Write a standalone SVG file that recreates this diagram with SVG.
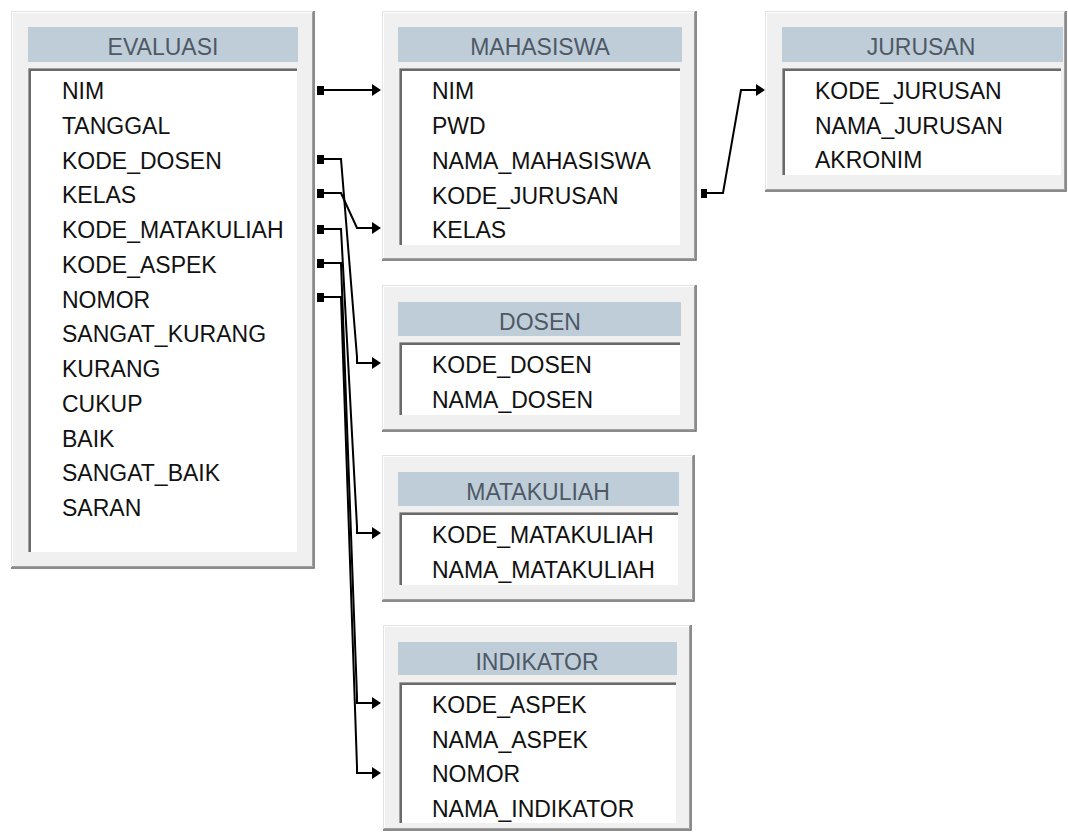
<svg xmlns="http://www.w3.org/2000/svg" width="1068" height="834" viewBox="0 0 1068 834">
<defs>
<style>
.panel{fill:#f0f0f0}
.hi1{fill:none;stroke:#e3e3e3;stroke-width:1}
.hi2{fill:none;stroke:#ffffff;stroke-width:1}
.sh1{fill:none;stroke:#a0a0a0;stroke-width:1}
.sh2{fill:none;stroke:#6a6a6a;stroke-width:1.5}
.hdr{fill:#bfcdd9}
.inner{fill:#ffffff}
.in1{fill:none;stroke:#a0a0a0;stroke-width:1}
.in2{fill:none;stroke:#6a6a6a;stroke-width:2}
.title{font-family:"Liberation Sans",Arial,sans-serif;font-size:23px;fill:#4e5965;text-anchor:middle}
.fld{font-family:"Liberation Sans",Arial,sans-serif;font-size:23px;fill:#111111}
.ln{fill:none;stroke:#000;stroke-width:2}
.sq{fill:#000}
.ah{fill:#000}
</style>
</defs>
<rect width="1068" height="834" fill="#ffffff"/>

<g id="EVALUASI">
<rect class="panel" x="11" y="11" width="304" height="558"/>
<path class="hi1" d="M11.5,568 V11.5 H314"/>
<path class="hi2" d="M12.5,567 V12.5 H313"/>
<path class="sh1" d="M312.5,12 V566.5 H12"/>
<path class="sh2" d="M314,11 V568 H11"/>
<rect class="hdr" x="28" y="27" width="270" height="35"/>
<text class="title" x="163" y="55">EVALUASI</text>
<rect class="inner" x="28" y="68" width="269" height="484"/>
<path class="in1" d="M28.5,552 V68.5 H297"/>
<path class="in2" d="M30,552 V70 H297"/>
<text class="fld" x="62" y="99">NIM</text>
<text class="fld" x="62" y="133.8">TANGGAL</text>
<text class="fld" x="62" y="168.5">KODE_DOSEN</text>
<text class="fld" x="62" y="203.3">KELAS</text>
<text class="fld" x="62" y="238">KODE_MATAKULIAH</text>
<text class="fld" x="62" y="272.8">KODE_ASPEK</text>
<text class="fld" x="62" y="307.5">NOMOR</text>
<text class="fld" x="62" y="342.3">SANGAT_KURANG</text>
<text class="fld" x="62" y="377">KURANG</text>
<text class="fld" x="62" y="411.8">CUKUP</text>
<text class="fld" x="62" y="446.5">BAIK</text>
<text class="fld" x="62" y="481.3">SANGAT_BAIK</text>
<text class="fld" x="62" y="516">SARAN</text>
</g>

<g id="MAHASISWA">
<rect class="panel" x="382" y="11" width="315" height="250"/>
<path class="hi1" d="M382.5,260 V11.5 H696"/>
<path class="hi2" d="M383.5,259 V12.5 H695"/>
<path class="sh1" d="M694.5,12 V258.5 H383"/>
<path class="sh2" d="M696,11 V260 H382"/>
<rect class="hdr" x="398" y="27" width="284" height="35"/>
<text class="title" x="540" y="55">MAHASISWA</text>
<rect class="inner" x="399" y="68" width="281" height="177"/>
<path class="in1" d="M399.5,245 V68.5 H680"/>
<path class="in2" d="M401,245 V70 H680"/>
<text class="fld" x="432" y="99">NIM</text>
<text class="fld" x="432" y="134">PWD</text>
<text class="fld" x="432" y="168.5">NAMA_MAHASISWA</text>
<text class="fld" x="432" y="203.5">KODE_JURUSAN</text>
<text class="fld" x="432" y="238">KELAS</text>
</g>

<g id="JURUSAN">
<rect class="panel" x="765" y="11" width="302" height="181"/>
<path class="hi1" d="M765.5,191 V11.5 H1066"/>
<path class="hi2" d="M766.5,190 V12.5 H1065"/>
<path class="sh1" d="M1064.5,12 V189.5 H766"/>
<path class="sh2" d="M1066,11 V191 H765"/>
<rect class="hdr" x="782" y="27" width="281" height="35"/>
<text class="title" x="921" y="55">JURUSAN</text>
<rect class="inner" x="782" y="68" width="279" height="107"/>
<path class="in1" d="M782.5,175 V68.5 H1061"/>
<path class="in2" d="M784,175 V70 H1061"/>
<text class="fld" x="815" y="99">KODE_JURUSAN</text>
<text class="fld" x="815" y="133.5">NAMA_JURUSAN</text>
<text class="fld" x="815" y="168">AKRONIM</text>
</g>

<g id="DOSEN">
<rect class="panel" x="382" y="285" width="315" height="147"/>
<path class="hi1" d="M382.5,431 V285.5 H696"/>
<path class="hi2" d="M383.5,430 V286.5 H695"/>
<path class="sh1" d="M694.5,286 V429.5 H383"/>
<path class="sh2" d="M696,285 V431 H382"/>
<rect class="hdr" x="398" y="302" width="283" height="34"/>
<text class="title" x="540" y="330">DOSEN</text>
<rect class="inner" x="399" y="342" width="281" height="73"/>
<path class="in1" d="M399.5,415 V342.5 H680"/>
<path class="in2" d="M401,415 V344 H680"/>
<text class="fld" x="432" y="373">KODE_DOSEN</text>
<text class="fld" x="432" y="408">NAMA_DOSEN</text>
</g>

<g id="MATAKULIAH">
<rect class="panel" x="382" y="455" width="313" height="147"/>
<path class="hi1" d="M382.5,601 V455.5 H694"/>
<path class="hi2" d="M383.5,600 V456.5 H693"/>
<path class="sh1" d="M692.5,456 V599.5 H383"/>
<path class="sh2" d="M694,455 V601 H382"/>
<rect class="hdr" x="398" y="472" width="281" height="34"/>
<text class="title" x="538" y="500">MATAKULIAH</text>
<rect class="inner" x="399" y="512" width="279" height="73"/>
<path class="in1" d="M399.5,585 V512.5 H678"/>
<path class="in2" d="M401,585 V514 H678"/>
<text class="fld" x="432" y="543">KODE_MATAKULIAH</text>
<text class="fld" x="432" y="578">NAMA_MATAKULIAH</text>
</g>

<g id="INDIKATOR">
<rect class="panel" x="383" y="625" width="309" height="206"/>
<path class="hi1" d="M383.5,830 V625.5 H691"/>
<path class="hi2" d="M384.5,829 V626.5 H690"/>
<path class="sh1" d="M689.5,626 V828.5 H384"/>
<path class="sh2" d="M691,625 V830 H383"/>
<rect class="hdr" x="398" y="642" width="279" height="33"/>
<text class="title" x="537" y="670">INDIKATOR</text>
<rect class="inner" x="399" y="682" width="277" height="141"/>
<path class="in1" d="M399.5,823 V682.5 H676"/>
<path class="in2" d="M401,823 V684 H676"/>
<text class="fld" x="432" y="713">KODE_ASPEK</text>
<text class="fld" x="432" y="748">NAMA_ASPEK</text>
<text class="fld" x="432" y="782">NOMOR</text>
<text class="fld" x="432" y="817">NAMA_INDIKATOR</text>
</g>

<g id="connectors">
<!-- EVALUASI.NIM -> MAHASISWA.NIM -->
<rect class="sq" x="317" y="86" width="7" height="9"/>
<path class="ln" d="M324,90 H373"/>
<polygon class="ah" points="372,84 381,90 372,96"/>
<!-- MAHASISWA.KODE_JURUSAN -> JURUSAN.KODE_JURUSAN -->
<rect class="sq" x="701" y="189" width="6" height="9"/>
<path class="ln" d="M707,193 H723 L741,90 H757"/>
<polygon class="ah" points="756,84 765,90 756,96"/>
<!-- EVALUASI.KODE_DOSEN -> DOSEN.KODE_DOSEN -->
<rect class="sq" x="317" y="155" width="7" height="9"/>
<path class="ln" d="M324,159 H341 L357,357 V363 H373"/>
<polygon class="ah" points="372,357 381,363 372,369"/>
<!-- EVALUASI.KELAS -> MAHASISWA.KELAS -->
<rect class="sq" x="317" y="189" width="7" height="9"/>
<path class="ln" d="M324,193 H341 L357,228 H373"/>
<polygon class="ah" points="372,222 381,228 372,234"/>
<!-- EVALUASI.KODE_MATAKULIAH -> MATAKULIAH.KODE_MATAKULIAH -->
<rect class="sq" x="317" y="225" width="7" height="9"/>
<path class="ln" d="M324,229 H341 L357,527 V533 H373"/>
<polygon class="ah" points="372,527 381,533 372,539"/>
<!-- EVALUASI.KODE_ASPEK -> INDIKATOR.KODE_ASPEK -->
<rect class="sq" x="317" y="259" width="7" height="9"/>
<path class="ln" d="M324,263 H341 L357,697 V703 H373"/>
<polygon class="ah" points="372,697 381,703 372,709"/>
<!-- EVALUASI.NOMOR -> INDIKATOR.NOMOR -->
<rect class="sq" x="317" y="293" width="7" height="9"/>
<path class="ln" d="M324,297 H341 L357,767 V773 H373"/>
<polygon class="ah" points="372,767 381,773 372,779"/>
</g>
</svg>
